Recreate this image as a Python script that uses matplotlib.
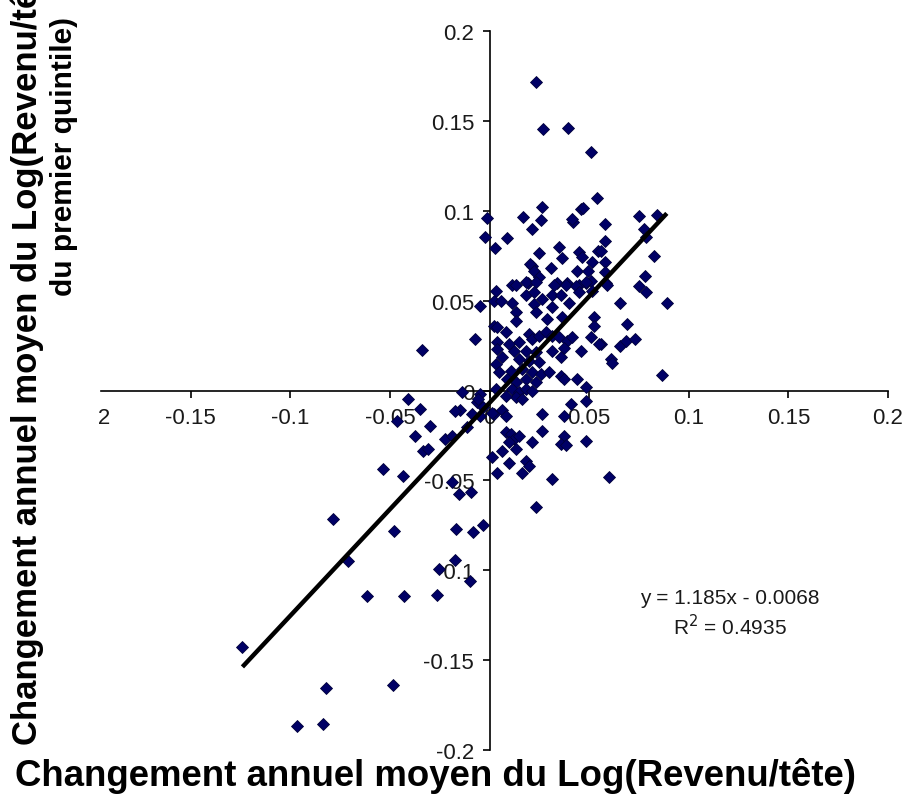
import matplotlib
matplotlib.use("Agg")
import matplotlib.pyplot as plt
from matplotlib.ticker import FuncFormatter, FixedLocator
from matplotlib.transforms import Bbox, offset_copy
import numpy as np

plt.rcParams['font.family'] = ['Liberation Sans', 'DejaVu Sans']

# Average annual change in log income per head (x) vs. log income of the
# bottom quintile (y), one point per growth spell.
x_vals = [
    0.0235, 0.027, 0.0395, 0.051, 0.054, -0.0015, -0.0025, 0.003, 0.009, 0.017,
    0.0215, 0.026, 0.0265, 0.025, 0.0215, 0.0205, 0.0225, 0.025, 0.0195, 0.031,
    0.035, 0.0365, 0.034, 0.039, 0.0115, 0.0135, 0.042, 0.0415, 0.046, 0.047,
    0.045, 0.0465, 0.044, 0.0495, 0.0515, 0.0545, 0.058, 0.058, 0.058, 0.058,
    0.0485, 0.045, 0.051, 0.0585, 0.075, 0.0775, 0.084, 0.0785, 0.056, 0.0825,
    0.059, 0.078, 0.075, 0.0785, 0.0655, 0.089, 0.069, 0.056, 0.0655, 0.0685,
    0.073, 0.061, 0.0615, 0.0865, 0.06, 0.0185, 0.0235, 0.0325, 0.0385, 0.0435,
    0.0485, 0.0035, -0.005, 0.0025, 0.006, 0.0115, 0.0185, 0.0225, 0.0265, 0.0315,
    0.036, 0.04, 0.045, 0.0515, 0.0315, 0.0225, 0.0135, 0.0135, 0.0235, 0.029,
    0.0365, 0.0525, 0.0525, 0.0025, 0.004, -0.0075, -0.034, 0.0085, 0.004, 0.004,
    0.01, 0.015, 0.02, 0.0215, 0.025, 0.0285, 0.0315, 0.035, 0.039, 0.0415,
    0.0375, 0.0315, 0.036, 0.046, 0.051, 0.055, 0.0065, 0.0125, 0.0185, 0.0235,
    0.015, 0.02, 0.025, 0.0035, 0.005, 0.011, 0.0165, 0.0215, 0.026, 0.03,
    0.036, 0.0375, 0.044, 0.0485, 0.009, 0.0135, 0.0185, 0.0235, 0.0115, 0.015,
    0.0185, 0.0215, 0.0135, 0.0165, 0.0085, 0.0035, -0.014, -0.005, -0.0065, -0.0035,
    -0.015, -0.009, -0.005, -0.0175, -0.041, -0.035, -0.0465, -0.03, -0.0375, -0.0225,
    -0.019, -0.0115, -0.0335, -0.031, 0.0025, 0.0065, 0.0085, 0.0085, 0.011, 0.0125,
    0.01, 0.015, 0.0135, 0.0215, 0.0265, 0.0265, 0.0375, 0.041, 0.0375, 0.036,
    0.0385, 0.0485, 0.0015, 0.01, 0.0065, 0.0185, 0.02, 0.0315, 0.004, 0.0165,
    0.0235, -0.0535, -0.0435, -0.019, -0.0155, -0.0095, -0.0785, -0.048, -0.017, -0.0085,
    -0.0035, -0.071, -0.0175, -0.0255, -0.01, -0.0615, -0.043, -0.0265, -0.124, -0.082,
    -0.0485, -0.0965, -0.0835, -0.006, 0.0015, 0.0485,
]
y_vals = [
    0.172, 0.1455, 0.146, 0.1328, 0.107, 0.096, 0.0855, 0.0795, 0.085, 0.0967,
    0.09, 0.095, 0.102, 0.0767, 0.0695, 0.0705, 0.0665, 0.063, 0.06, 0.068,
    0.08, 0.074, 0.06, 0.06, 0.059, 0.059, 0.094, 0.0955, 0.101, 0.1015,
    0.077, 0.0745, 0.0667, 0.0667, 0.0717, 0.0778, 0.0928, 0.0833, 0.0717, 0.066,
    0.06, 0.059, 0.061, 0.06, 0.097, 0.09, 0.098, 0.0855, 0.078, 0.075,
    0.059, 0.064, 0.058, 0.055, 0.049, 0.049, 0.037, 0.026, 0.025, 0.0275,
    0.029, 0.0175, 0.0155, 0.0087, -0.048, 0.0605, 0.0605, 0.059, 0.059, 0.058,
    0.0605, 0.0555, 0.047, 0.05, 0.05, 0.049, 0.0535, 0.055, 0.051, 0.0535,
    0.0535, 0.049, 0.055, 0.0555, 0.0465, 0.048, 0.0435, 0.0385, 0.0435, 0.04,
    0.041, 0.041, 0.036, 0.036, 0.0355, 0.0285, 0.0225, 0.0325, 0.027, 0.023,
    0.026, 0.027, 0.0315, 0.0285, 0.0305, 0.0325, 0.0305, 0.03, 0.0275, 0.03,
    0.024, 0.022, 0.019, 0.022, 0.03, 0.026, 0.0185, 0.022, 0.022, 0.0215,
    0.0175, 0.0165, 0.016, 0.015, 0.0105, 0.011, 0.012, 0.0105, 0.0095, 0.0105,
    0.008, 0.0065, 0.0065, 0.002, 0.0065, 0.005, 0.0065, 0.005, 0.001, -0.0005,
    0.001, 0.0, -0.0035, -0.0045, -0.003, 0.001, -0.0005, -0.002, -0.0065, -0.009,
    -0.011, -0.013, -0.014, -0.0115, -0.0045, -0.01, -0.017, -0.0195, -0.025, -0.027,
    -0.025, -0.02, -0.0335, -0.0325, -0.013, -0.011, -0.014, -0.023, -0.024, -0.027,
    -0.0285, -0.025, -0.0325, -0.0285, -0.013, -0.0225, -0.014, -0.0075, -0.025, -0.0295,
    -0.0305, -0.028, -0.037, -0.04, -0.0335, -0.039, -0.042, -0.049, -0.046, -0.046,
    -0.065, -0.0435, -0.0475, -0.051, -0.0575, -0.0565, -0.0715, -0.078, -0.077, -0.0785,
    -0.075, -0.095, -0.094, -0.099, -0.106, -0.1145, -0.1145, -0.114, -0.1425, -0.1655,
    -0.164, -0.1865, -0.1855, -0.0045, -0.0125, -0.0055,
]

# Linear trend shown on the chart
slope = 1.185
intercept = -0.0068
r_squared = 0.4935

x_ticks = [-0.15, -0.1, -0.05, 0, 0.05, 0.1, 0.15, 0.2]
y_ticks = [-0.2, -0.15, -0.1, -0.05, 0, 0.05, 0.1, 0.15, 0.2]

xlabel = "Changement annuel moyen du Log(Revenu/tête)"
ylabel_line1 = "Changement annuel moyen du Log(Revenu/tête"
ylabel_line2 = "du premier quintile)"

W, H, DPI = 905, 803, 100
fig = plt.figure(figsize=(W / DPI, H / DPI), dpi=DPI)
fig.patch.set_facecolor("white")

ax = fig.add_axes([91 / W, 1 - 751 / H, 797 / W, 718.7 / H])
ax.set_xlim(-0.2, 0.2)
ax.set_ylim(-0.2, 0.2)
ax.set_facecolor("white")

ax.plot(x_vals, y_vals, linestyle="none", marker="D", markersize=6.4,
        markerfacecolor="#000066", markeredgecolor="#00003a", markeredgewidth=0.6,
        zorder=3)

xs = np.array(x_vals)
x_line = np.array([xs.min(), xs.max()])
ax.plot(x_line, slope * x_line + intercept, color="black", linewidth=3.2,
        solid_capstyle="butt", zorder=4)

# Axes crossing at the origin
for side in ("top", "right"):
    ax.spines[side].set_visible(False)
ax.spines["left"].set_position(("data", 0))
ax.spines["bottom"].set_position(("data", 0))
ax.spines["bottom"].set_bounds(-0.195, 0.2)
for side in ("left", "bottom"):
    ax.spines[side].set_linewidth(1.2)
    ax.spines[side].set_zorder(2)

fmt = FuncFormatter(lambda v, p: f"{v:g}")
ax.xaxis.set_major_locator(FixedLocator(x_ticks))
ax.yaxis.set_major_locator(FixedLocator(y_ticks))
ax.xaxis.set_major_formatter(fmt)
ax.yaxis.set_major_formatter(fmt)
tick_fs = 16
ax.tick_params(axis="x", direction="out", length=5, width=1.2, pad=7,
               labelsize=tick_fs, colors="black")
ax.tick_params(axis="y", direction="out", length=5, width=1.2, pad=6,
               labelsize=tick_fs, colors="black")
for lbl in ax.get_xticklabels() + ax.get_yticklabels():
    lbl.set_color("#1a1a1a")

# Left-most x label, cut at the chart's left border
edge = ax.text(-0.2, 0, "-0.2", ha="center", va="top", fontsize=tick_fs,
               color="#1a1a1a",
               transform=offset_copy(ax.transData, fig=fig, x=0, y=-12,
                                     units="points"))
edge.set_clip_box(Bbox([[97, 0], [W, H]]))
edge.set_clip_on(True)

ax.text(0.1205, -0.115, f"y = {slope}x - {abs(intercept):.4f}", ha="center",
        va="center", fontsize=15, color="#1a1a1a")
ax.text(0.1205, -0.131, f"R$^2$ = {r_squared}", ha="center", va="center",
        fontsize=15, color="#1a1a1a")

fig.text(435 / W, 1 - 776 / H, xlabel, ha="center", va="center",
         fontsize=26.4, fontweight="bold", color="black")
fig.text(27 / W, 1 - 745 / H, ylabel_line1, rotation=90, ha="center",
         va="bottom", fontsize=25, fontweight="bold", color="black")
fig.text(64 / W, 1 - 296 / H, ylabel_line2, rotation=90, ha="center",
         va="bottom", fontsize=21.5, fontweight="bold", color="black")

fig.savefig("out.png", dpi=DPI, facecolor="white")
